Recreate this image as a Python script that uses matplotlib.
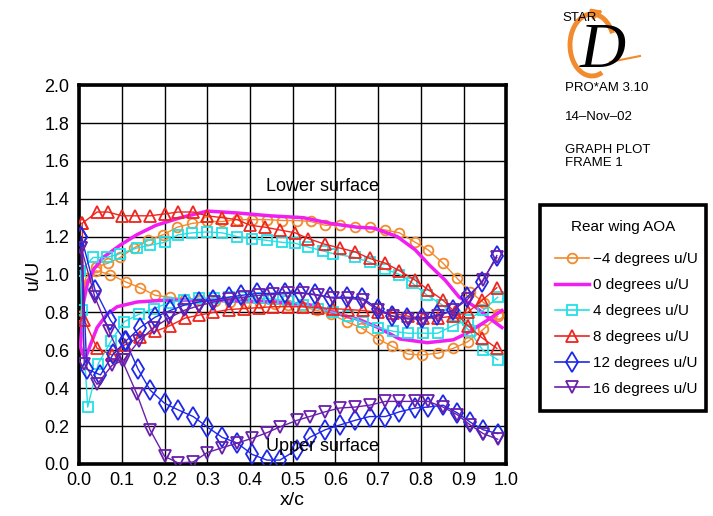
import matplotlib
matplotlib.use("Agg")
import matplotlib.pyplot as plt
from matplotlib.lines import Line2D
from matplotlib.patches import Arc

plt.rcParams['font.family'] = ['Liberation Sans', 'DejaVu Sans']

# ---------------- data ----------------
# -4 degrees (orange circles)
m4_ls_x = [0.003, 0.015, 0.04, 0.068, 0.096, 0.128, 0.162, 0.197, 0.23, 0.265, 0.3, 0.335, 0.37, 0.405, 0.44, 0.475, 0.51, 0.542, 0.576, 0.61, 0.646, 0.68, 0.717, 0.75, 0.787, 0.817, 0.852, 0.885, 0.915, 0.948, 0.98]
m4_ls_y = [0.78, 0.98, 1.04, 1.06, 1.09, 1.14, 1.18, 1.21, 1.25, 1.27, 1.28, 1.28, 1.29, 1.29, 1.29, 1.285, 1.285, 1.28, 1.26, 1.26, 1.25, 1.25, 1.235, 1.22, 1.17, 1.13, 1.06, 0.98, 0.91, 0.85, 0.79]
m4_us_x = [0.003, 0.02, 0.04, 0.073, 0.11, 0.143, 0.178, 0.213, 0.248, 0.283, 0.318, 0.353, 0.388, 0.423, 0.458, 0.49, 0.525, 0.557, 0.59, 0.627, 0.66, 0.70, 0.733, 0.77, 0.803, 0.84, 0.876, 0.91, 0.946, 0.98]
m4_us_y = [0.78, 0.95, 1.02, 1.0, 0.96, 0.93, 0.89, 0.88, 0.87, 0.865, 0.86, 0.855, 0.85, 0.85, 0.845, 0.84, 0.83, 0.81, 0.79, 0.75, 0.72, 0.66, 0.62, 0.58, 0.575, 0.585, 0.61, 0.645, 0.71, 0.78]

# 0 degrees (magenta line)
p0_ls_x = [0.003, 0.01, 0.02, 0.035, 0.056, 0.096, 0.135, 0.18, 0.237, 0.3, 0.37, 0.447, 0.525, 0.588, 0.65, 0.69, 0.745, 0.787, 0.82, 0.857, 0.89, 0.927, 0.96, 0.99]
p0_ls_y = [0.62, 0.85, 0.96, 1.03, 1.09, 1.155, 1.21, 1.26, 1.30, 1.335, 1.325, 1.31, 1.30, 1.27, 1.25, 1.245, 1.2, 1.13, 1.05, 0.97, 0.88, 0.83, 0.77, 0.72]
p0_us_x = [0.003, 0.008, 0.015, 0.025, 0.042, 0.065, 0.089, 0.136, 0.206, 0.29, 0.38, 0.46, 0.54, 0.595, 0.658, 0.70, 0.75, 0.815, 0.876, 0.908, 0.95, 0.99]
p0_us_y = [0.62, 0.58, 0.56, 0.62, 0.72, 0.79, 0.83, 0.855, 0.865, 0.865, 0.86, 0.855, 0.84, 0.80, 0.76, 0.72, 0.66, 0.64, 0.655, 0.69, 0.75, 0.81]

# 4 degrees (cyan squares)
p4_ls_x = [0.003, 0.033, 0.065, 0.096, 0.135, 0.166, 0.2, 0.232, 0.265, 0.3, 0.335, 0.37, 0.405, 0.44, 0.475, 0.506, 0.536, 0.57, 0.595, 0.646, 0.68, 0.715, 0.75, 0.78, 0.815, 0.85, 0.88, 0.915, 0.945, 0.98]
p4_ls_y = [1.02, 1.09, 1.09, 1.11, 1.14, 1.155, 1.17, 1.21, 1.22, 1.225, 1.22, 1.2, 1.19, 1.18, 1.17, 1.165, 1.145, 1.125, 1.11, 1.09, 1.065, 1.03, 1.0, 0.955, 0.89, 0.84, 0.78, 0.70, 0.60, 0.55]
p4_us_x = [0.003, 0.006, 0.02, 0.045, 0.075, 0.105, 0.14, 0.175, 0.21, 0.245, 0.28, 0.315, 0.35, 0.385, 0.42, 0.455, 0.49, 0.525, 0.56, 0.595, 0.63, 0.665, 0.70, 0.735, 0.77, 0.805, 0.84, 0.875, 0.91, 0.945, 0.98]
p4_us_y = [1.02, 0.81, 0.30, 0.53, 0.65, 0.75, 0.79, 0.82, 0.85, 0.865, 0.875, 0.875, 0.88, 0.88, 0.875, 0.87, 0.86, 0.84, 0.82, 0.80, 0.78, 0.75, 0.72, 0.70, 0.69, 0.69, 0.69, 0.73, 0.76, 0.81, 0.88]

# 8 degrees (red triangles)
p8_ls_x = [0.007, 0.042, 0.068, 0.1, 0.131, 0.166, 0.2, 0.232, 0.267, 0.3, 0.335, 0.37, 0.40, 0.435, 0.47, 0.506, 0.536, 0.575, 0.61, 0.646, 0.68, 0.717, 0.75, 0.787, 0.817, 0.852, 0.88, 0.91, 0.944, 0.978]
p8_ls_y = [1.27, 1.33, 1.33, 1.31, 1.31, 1.31, 1.32, 1.33, 1.33, 1.31, 1.30, 1.29, 1.26, 1.25, 1.235, 1.22, 1.19, 1.16, 1.14, 1.12, 1.085, 1.06, 1.02, 0.97, 0.92, 0.865, 0.80, 0.73, 0.665, 0.61]
p8_us_x = [0.007, 0.012, 0.042, 0.077, 0.108, 0.143, 0.178, 0.213, 0.248, 0.28, 0.314, 0.35, 0.385, 0.42, 0.455, 0.49, 0.525, 0.56, 0.595, 0.63, 0.665, 0.70, 0.735, 0.77, 0.805, 0.84, 0.875, 0.91, 0.944, 0.978]
p8_us_y = [1.27, 0.76, 0.61, 0.575, 0.63, 0.67, 0.70, 0.73, 0.77, 0.785, 0.80, 0.815, 0.82, 0.825, 0.83, 0.83, 0.83, 0.825, 0.82, 0.815, 0.81, 0.80, 0.795, 0.78, 0.77, 0.77, 0.78, 0.80, 0.865, 0.93]

# 12 degrees (blue diamonds)
p12_us_x = [0.005, 0.037, 0.073, 0.108, 0.138, 0.166, 0.2, 0.232, 0.267, 0.30, 0.335, 0.37, 0.405, 0.44, 0.47, 0.51, 0.54, 0.576, 0.61, 0.646, 0.68, 0.717, 0.75, 0.787, 0.817, 0.852, 0.885, 0.916, 0.946, 0.98]
p12_us_y = [1.2, 0.92, 0.76, 0.65, 0.50, 0.39, 0.32, 0.285, 0.25, 0.195, 0.14, 0.11, 0.05, 0.02, 0.02, 0.075, 0.14, 0.18, 0.205, 0.23, 0.25, 0.25, 0.275, 0.295, 0.30, 0.31, 0.27, 0.22, 0.18, 0.16]
p12_ls_x = [0.005, 0.018, 0.05, 0.08, 0.11, 0.143, 0.178, 0.213, 0.248, 0.28, 0.314, 0.35, 0.38, 0.417, 0.447, 0.482, 0.517, 0.552, 0.588, 0.627, 0.663, 0.70, 0.733, 0.768, 0.803, 0.838, 0.876, 0.908, 0.944, 0.978]
p12_ls_y = [1.2, 0.50, 0.47, 0.58, 0.65, 0.72, 0.775, 0.81, 0.84, 0.855, 0.865, 0.88, 0.89, 0.90, 0.90, 0.905, 0.905, 0.895, 0.88, 0.88, 0.875, 0.82, 0.78, 0.77, 0.77, 0.785, 0.81, 0.88, 0.96, 1.10]

# 16 degrees (purple down triangles)
p16_us_x = [0.005, 0.037, 0.07, 0.1, 0.135, 0.166, 0.2, 0.232, 0.267, 0.30, 0.335, 0.37, 0.405, 0.44, 0.47, 0.51, 0.54, 0.576, 0.61, 0.646, 0.68, 0.717, 0.75, 0.787, 0.817, 0.852, 0.885, 0.916, 0.946, 0.98]
p16_us_y = [1.14, 0.88, 0.70, 0.55, 0.37, 0.18, 0.04, 0.005, 0.01, 0.06, 0.085, 0.11, 0.135, 0.165, 0.195, 0.23, 0.25, 0.275, 0.295, 0.30, 0.31, 0.33, 0.33, 0.33, 0.33, 0.30, 0.26, 0.205, 0.16, 0.13]
p16_ls_x = [0.005, 0.012, 0.042, 0.077, 0.105, 0.14, 0.175, 0.21, 0.245, 0.28, 0.315, 0.35, 0.385, 0.42, 0.455, 0.49, 0.525, 0.56, 0.595, 0.63, 0.665, 0.70, 0.735, 0.77, 0.805, 0.84, 0.875, 0.91, 0.945, 0.978]
p16_ls_y = [1.14, 0.53, 0.42, 0.52, 0.55, 0.65, 0.72, 0.77, 0.81, 0.835, 0.855, 0.87, 0.88, 0.89, 0.895, 0.90, 0.90, 0.89, 0.875, 0.875, 0.865, 0.81, 0.78, 0.765, 0.765, 0.78, 0.81, 0.87, 0.97, 1.09]

labels = ["\u22124 degrees u/U", "0 degrees u/U", "4 degrees u/U",
          "8 degrees u/U", "12 degrees u/U", "16 degrees u/U"]
x_ticks = [0.0, 0.1, 0.2, 0.3, 0.4, 0.5, 0.6, 0.7, 0.8, 0.9, 1.0]
y_ticks = [0.0, 0.2, 0.4, 0.6, 0.8, 1.0, 1.2, 1.4, 1.6, 1.8, 2.0]

c_or = '#F28A2E'
c_mg = '#F01EF0'
c_cy = '#22E0E6'
c_rd = '#F0241E'
c_bl = '#1E28E6'
c_pu = '#6A1FAA'

# ---------------- figure ----------------
fig = plt.figure(figsize=(7.13, 5.16), dpi=100)
ax = fig.add_axes([0.111, 0.101, 0.599, 0.734])

styles = [
    (m4_ls_x, m4_ls_y, m4_us_x, m4_us_y, c_or, 'o', 7, 1.0),
    (p0_ls_x, p0_ls_y, p0_us_x, p0_us_y, c_mg, None, 0, 2.5),
    (p4_ls_x, p4_ls_y, p4_us_x, p4_us_y, c_cy, 's', 7, 1.0),
    (p8_ls_x, p8_ls_y, p8_us_x, p8_us_y, c_rd, '^', 8, 1.0),
    (p12_ls_x, p12_ls_y, p12_us_x, p12_us_y, c_bl, 'd', 10, 1.0),
    (p16_ls_x, p16_ls_y, p16_us_x, p16_us_y, c_pu, 'v', 8, 1.0),
]

handles = []
for (lx, ly, ux, uy, col, mk, ms, lw), lab in zip(styles, labels):
    for xx, yy in ((lx, ly), (ux, uy)):
        ax.plot(xx, yy, color=col, lw=lw, marker=mk, ms=ms,
                mfc='none', mec=col, mew=1.3, zorder=3)
    handles.append(Line2D([], [], color=col, lw=lw if mk is None else 1.2,
                          marker=mk, ms=ms, mfc='none', mec=col, mew=1.3))

ax.set_xlim(0, 1.0)
ax.set_ylim(0, 2.0)
ax.set_xticks(x_ticks)
ax.set_yticks(y_ticks)
ax.set_xticklabels([f"{v:.1f}" for v in x_ticks], fontsize=13)
ax.set_yticklabels([f"{v:.1f}" for v in y_ticks], fontsize=13)
ax.tick_params(axis='x', length=0, pad=6)
ax.tick_params(axis='y', length=0, pad=7)
ax.grid(True, color='black', lw=1.0)
ax.set_axisbelow(True)
for s in ax.spines.values():
    s.set_linewidth(2.6)
ax.set_xlabel("x/c", fontsize=14, labelpad=2)
ax.set_ylabel("u/U", fontsize=14, labelpad=2)

ax.text(0.57, 1.465, "Lower surface", fontsize=13, ha='center', va='center', zorder=5)
ax.text(0.57, 0.09, "Upper surface", fontsize=13, ha='center', va='center', zorder=5)

leg = fig.legend(handles, labels, title="Rear wing AOA", loc='upper left',
                 bbox_to_anchor=(0.757, 0.603, 0.233, 0.0), mode='expand',
                 fontsize=11, title_fontsize=11, handlelength=2.2,
                 labelspacing=0.78, borderpad=1.0, handletextpad=0.3,
                 borderaxespad=0, fancybox=False, framealpha=1,
                 edgecolor='black')
leg.get_frame().set_linewidth(2.6)
leg._legend_box.sep = 13

# ---------------- logo & info text ----------------
lax = fig.add_axes([550 / 713, 1 - 80 / 516, 110 / 713, 80 / 516])
lax.set_xlim(550, 660)
lax.set_ylim(80, 0)
lax.axis('off')
lax.add_patch(Arc((592, 45), 44, 62, angle=0, theta1=70, theta2=330,
                  color=c_or, lw=3.5))
lax.annotate("", xy=(606, 10), xytext=(596, 13),
             arrowprops=dict(arrowstyle='-|>', color=c_or, lw=2.5, mutation_scale=14))
lax.plot([610, 640], [62, 56], color=c_or, lw=1.5)
lax.text(580, 18, "STAR", fontsize=9.5, ha='center', va='center')
lax.text(603, 52, "D", fontsize=46, family='Liberation Serif', style='italic',
         ha='center', va='center')

fig.text(0.792, 0.829, "PRO*AM 3.10", fontsize=9.5, va='center')
fig.text(0.792, 0.773, "14\u2013Nov\u201302", fontsize=9.5, va='center')
fig.text(0.792, 0.709, "GRAPH PLOT", fontsize=9.5, va='center')
fig.text(0.792, 0.684, "FRAME 1", fontsize=9.5, va='center')

fig.savefig("out.png", dpi=100)
